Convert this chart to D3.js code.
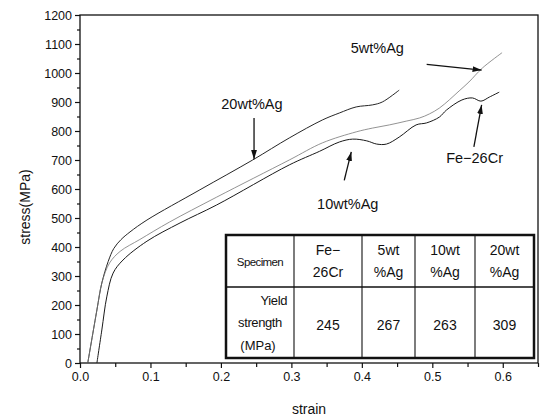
<!DOCTYPE html>
<html><head><meta charset="utf-8">
<script src="https://cdn.jsdelivr.net/npm/d3@7"></script>
<style>body{margin:0;background:#fff}svg{display:block}text{font-family:"Liberation Sans",Arial,sans-serif;fill:#111}</style>
</head><body><svg id="c" width="541" height="419"></svg>
<script>
// ---- data ----
const strain20 = [0.011,0.024,0.031,0.040,0.048,0.058,0.071,0.095,0.170,0.245,0.297,0.344,0.368,0.392,0.415,0.429,0.453];
const stress20 = [0,183,276,350,395,425,452,493,597,700,776,838,862,883,890,900,941];
const strain5 = [0.011,0.024,0.031,0.042,0.057,0.085,0.127,0.194,0.297,0.344,0.392,0.415,0.439,0.463,0.482,0.496,0.510,0.524,0.538,0.552,0.571,0.599];
const stress5 = [0,183,276,345,385,426,486,572,700,759,797,810,821,834,845,859,879,907,938,969,1017,1070];
const strainFe = [0.024,0.031,0.038,0.047,0.061,0.095,0.142,0.194,0.297,0.340,0.368,0.387,0.407,0.421,0.435,0.453,0.477,0.492,0.510,0.520,0.542,0.557,0.569,0.581,0.595];
const stressFe = [0,114,228,310,355,420,483,545,683,730,762,772,766,755,755,779,821,828,848,872,907,914,903,917,934];
const yTicks = [0,100,200,300,400,500,600,700,800,900,1000,1100,1200];
const xTicks = [0.0,0.1,0.2,0.3,0.4,0.5,0.6];
const specimens = ["Fe-26Cr","5wt %Ag","10wt %Ag","20wt %Ag"];
const yieldStrength = [245,267,263,309];
const labels = ["20wt%Ag","5wt%Ag","10wt%Ag","Fe\u221226Cr"];

const svg = d3.select("#c");
const L=80, R=538, T=15, B=363;
const x = d3.scaleLinear().domain([0,0.65]).range([L,R]);
const y = d3.scaleLinear().domain([0,1200]).range([B,T]);

// frame
svg.append("rect").attr("x",L).attr("y",T).attr("width",R-L).attr("height",B-T)
  .attr("fill","none").attr("stroke","#111").attr("stroke-width",1.3);

// axes
const yAx = svg.append("g").attr("transform",`translate(${L},0)`)
  .call(d3.axisLeft(y).tickValues(yTicks).tickFormat(d3.format("d")).tickSize(5).tickPadding(3));
const yMin = svg.append("g").attr("transform",`translate(${L},0)`)
  .call(d3.axisLeft(y).tickValues(d3.range(50,1200,100)).tickFormat("").tickSize(3));
const xAx = svg.append("g").attr("transform",`translate(0,${B})`)
  .call(d3.axisBottom(x).tickValues(xTicks).tickFormat(d3.format(".1f")).tickSize(5).tickPadding(4));
const xMin = svg.append("g").attr("transform",`translate(0,${B})`)
  .call(d3.axisBottom(x).tickValues(d3.range(0.05,0.66,0.1)).tickFormat("").tickSize(4));
[yAx,yMin,xAx,xMin].forEach(g=>{g.select(".domain").remove();g.selectAll("line").attr("stroke","#111").attr("stroke-width",1.2);
  g.selectAll("text").attr("font-size",12.5).attr("fill","#111").style("font-family","Liberation Sans, Arial, sans-serif");});

svg.append("text").attr("x",309).attr("y",414).attr("text-anchor","middle").attr("font-size",14).text("strain");
svg.append("text").attr("transform","translate(30,207) rotate(-90)").attr("text-anchor","middle").attr("font-size",14).text("stress(MPa)");

// curves
const line = d3.line().x(d=>x(d[0])).y(d=>y(d[1])).curve(d3.curveCatmullRom.alpha(0.5));
const series = [
  {sx:strain20, sy:stress20, c:"#1a1a1a", w:0.95},
  {sx:strain5, sy:stress5, c:"#777", w:0.8},
  {sx:strainFe, sy:stressFe, c:"#1a1a1a", w:1.0}
];
series.forEach(s=>{
  svg.append("path").datum(s.sx.map((v,i)=>[v,s.sy[i]])).attr("d",line)
    .attr("fill","none").attr("stroke",s.c).attr("stroke-width",s.w);
});

// annotations
const defs = svg.append("defs");
defs.append("marker").attr("id","ah").attr("viewBox","0 0 10 10").attr("refX",10).attr("refY",5)
  .attr("markerWidth",7).attr("markerHeight",7).attr("orient","auto")
  .append("path").attr("d","M0,1.8 L10,5 L0,8.2 Z").attr("fill","#111");
function arrow(x1,y1,x2,y2){
  svg.append("line").attr("x1",x(x1)).attr("y1",y(y1)).attr("x2",x(x2)).attr("y2",y(y2))
    .attr("stroke","#111").attr("stroke-width",1.3).attr("marker-end","url(#ah)");
}
const ann = svg.append("g").attr("font-size",14.5);
ann.append("text").attr("x",x(0.244)).attr("y",y(875)).attr("text-anchor","middle").text(labels[0]);
arrow(0.247,845,0.247,703);
ann.append("text").attr("x",x(0.422)).attr("y",y(1070)).attr("text-anchor","middle").text(labels[1]);
arrow(0.492,1030,0.570,1010);
ann.append("text").attr("x",x(0.380)).attr("y",y(530)).attr("text-anchor","middle").text(labels[2]);
arrow(0.375,630,0.385,728);
ann.append("text").attr("x",x(0.560)).attr("y",y(690)).attr("text-anchor","middle").text(labels[3]);
arrow(0.559,745,0.570,890);

// table
const tL=226, tT=235, tR=534, tB=358, rowY=287;
const colX=[tL,294,362,415,475,tR];
const tg = svg.append("g");
tg.append("rect").attr("x",tL).attr("y",tT).attr("width",tR-tL).attr("height",tB-tT)
  .attr("fill","#fff").attr("stroke","#111").attr("stroke-width",2.5);
tg.append("line").attr("x1",tL).attr("x2",tR).attr("y1",rowY).attr("y2",rowY).attr("stroke","#111").attr("stroke-width",1.3);
colX.slice(1,-1).forEach(cx=>tg.append("line").attr("x1",cx).attr("x2",cx).attr("y1",tT).attr("y2",tB).attr("stroke","#111").attr("stroke-width",1.1));
tg.append("text").attr("x",(colX[0]+colX[1])/2).attr("y",266).attr("text-anchor","middle").attr("font-size",11.5).attr("letter-spacing",-0.6).text("Specimen");
specimens.forEach((s,i)=>{
  const cx=(colX[i+1]+colX[i+2])/2;
  const parts = i===0 ? ["Fe\u2212","26Cr"] : s.split(" ");
  parts.forEach((p,j)=>tg.append("text").attr("x",cx).attr("y",255+j*22).attr("text-anchor","middle").attr("font-size",14).text(p));
  tg.append("text").attr("x",cx).attr("y",330).attr("text-anchor","middle").attr("font-size",14).text(yieldStrength[i]);
});
tg.append("text").attr("x",287).attr("y",305).attr("text-anchor","end").attr("font-size",13).attr("letter-spacing",-0.4).text("Yield");
tg.append("text").attr("x",260).attr("y",327).attr("text-anchor","middle").attr("font-size",13).attr("letter-spacing",-0.4).text("strength");
tg.append("text").attr("x",258).attr("y",350).attr("text-anchor","middle").attr("font-size",13).text("(MPa)");
</script></body></html>
